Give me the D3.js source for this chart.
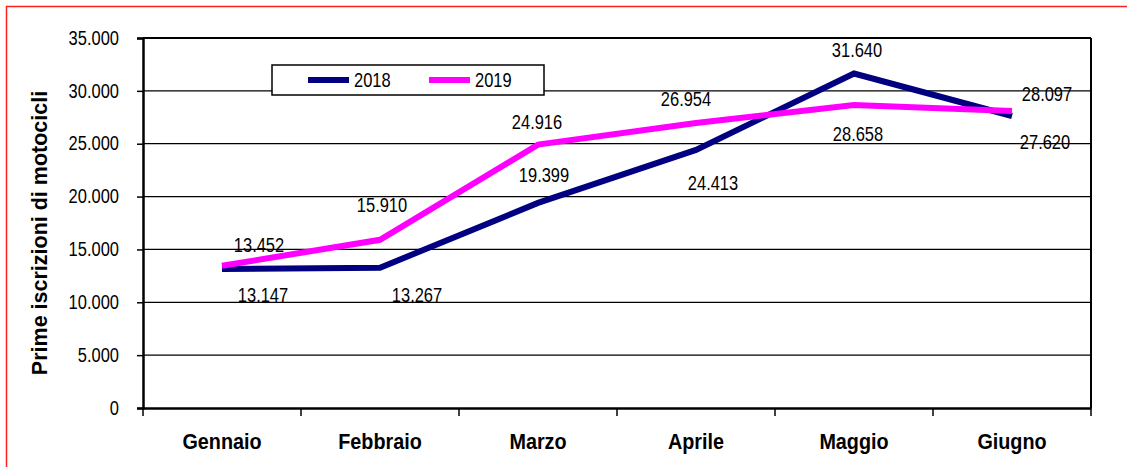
<!DOCTYPE html>
<html>
<head>
<meta charset="utf-8">
<script src="https://cdn.jsdelivr.net/npm/d3@7"></script>
<style>
  body { margin: 0; background: #fff; }
  text { font-family: "Liberation Sans", Arial, sans-serif; }
</style>
</head>
<body>
<div id="chart"></div>
<script>
// dati
var mesi = ["Gennaio", "Febbraio", "Marzo", "Aprile", "Maggio", "Giugno"];
var anni = ["2018", "2019"];
var valori2018 = [13147, 13267, 19399, 24413, 31640, 27620];
var valori2019 = [13452, 15910, 24916, 26954, 28658, 28097];
var yTicks = [0, 5000, 10000, 15000, 20000, 25000, 30000, 35000];

// spostamento delle etichette rispetto al punto (px)
var offset2018 = [[41, 33], [37, 34], [6, -21], [17, 40], [3, -17], [33, 33]];
var offset2019 = [[37, -14], [2, -28], [-1, -16], [-10, -17], [4, 36], [35, -10]];

var width = 1127, height = 467;
var margin = { top: 38, right: 36, bottom: 59, left: 143 };
var colori = ["#000080", "#ff00ff"];

var svg = d3.select("#chart").append("svg")
  .attr("width", width)
  .attr("height", height);

// il carattere del grafico originale e' stretto: comprimo in orizzontale
function stringi(sel, k) {
  sel.each(function () {
    var t = d3.select(this);
    var tx = +t.attr("x") || 0, ty = +t.attr("y") || 0;
    t.attr("x", null).attr("y", null)
      .attr("transform", "translate(" + tx + "," + ty + ") scale(" + k + ",1)");
  });
}

// cornice rossa
svg.append("rect")
  .attr("x", 6.5).attr("y", 6.5)
  .attr("width", width + 20).attr("height", height + 20)
  .attr("fill", "none")
  .attr("stroke", "#ff2020")
  .attr("stroke-width", 1.5);

var x = d3.scaleBand()
  .domain(mesi)
  .range([margin.left, width - margin.right]);

var y = d3.scaleLinear()
  .domain([0, 35000])
  .range([height - margin.bottom, margin.top]);

var fmt = function (v) { return d3.format(",")(v).replace(/,/g, "."); };

// griglia
svg.selectAll(".grid")
  .data(yTicks.slice(1))
  .enter().append("line")
  .attr("x1", margin.left).attr("x2", width - margin.right)
  .attr("y1", function (d) { return y(d); })
  .attr("y2", function (d) { return y(d); })
  .attr("stroke", "#000")
  .attr("stroke-width", function (d) { return d === 35000 ? 2 : 1.3; });

// bordo destro
svg.append("line")
  .attr("x1", width - margin.right).attr("x2", width - margin.right)
  .attr("y1", margin.top).attr("y2", y(0))
  .attr("stroke", "#000").attr("stroke-width", 2);

// asse y
var yAxis = svg.append("g")
  .attr("transform", "translate(" + margin.left + ",0)")
  .call(d3.axisLeft(y).tickValues(yTicks).tickSize(6).tickPadding(18).tickFormat(fmt));
yAxis.select(".domain").attr("stroke-width", 2.5);
yAxis.selectAll(".tick line").attr("stroke-width", 1.5);
yAxis.selectAll("text")
  .style("font-family", "'Liberation Sans', Arial, sans-serif")
  .style("font-size", "19.5px")
  .attr("fill", "#000")
  .call(stringi, 0.845);

// asse x
var xAxis = svg.append("g")
  .attr("transform", "translate(0," + y(0) + ")")
  .call(d3.axisBottom(x).tickSize(0).tickPadding(0));
xAxis.select(".domain").attr("stroke-width", 2.5);
xAxis.selectAll(".tick text").remove();

var bordi = x.domain().map(function (d) { return x(d); }).concat([width - margin.right]);
xAxis.selectAll(".sep")
  .data(bordi)
  .enter().append("line")
  .attr("x1", function (d) { return d; }).attr("x2", function (d) { return d; })
  .attr("y1", 0).attr("y2", 8)
  .attr("stroke", "#000").attr("stroke-width", 1.5);

xAxis.selectAll(".mese")
  .data(mesi)
  .enter().append("text")
  .attr("x", function (d) { return x(d) + x.bandwidth() / 2; })
  .attr("y", 41)
  .attr("text-anchor", "middle")
  .style("font-size", "22px")
  .style("font-weight", "bold")
  .attr("fill", "#000")
  .text(function (d) { return d; })
  .call(stringi, 0.9);

// titolo asse y
svg.append("text")
  .attr("transform", "translate(47," + 233 + ") rotate(-90)")
  .attr("text-anchor", "middle")
  .style("font-size", "21.5px")
  .style("font-weight", "bold")
  .text("Prime iscrizioni di motocicli");

// linee
var serie = [
  { nome: anni[0], valori: valori2018, offset: offset2018, colore: colori[0] },
  { nome: anni[1], valori: valori2019, offset: offset2019, colore: colori[1] }
];

var line = d3.line()
  .x(function (d, i) { return x(mesi[i]) + x.bandwidth() / 2; })
  .y(function (d) { return y(d); });

serie.forEach(function (s) {
  svg.append("path")
    .datum(s.valori)
    .attr("d", line)
    .attr("fill", "none")
    .attr("stroke", s.colore)
    .attr("stroke-width", 6)
    .attr("stroke-linejoin", "miter");
});

// etichette
serie.forEach(function (s) {
  svg.selectAll(null)
    .data(s.valori)
    .enter().append("text")
    .attr("x", function (d, i) { return x(mesi[i]) + x.bandwidth() / 2 + s.offset[i][0]; })
    .attr("y", function (d, i) { return y(d) + s.offset[i][1]; })
    .attr("text-anchor", "middle")
    .style("font-size", "19.5px")
    .attr("fill", "#000")
    .text(function (d) { return fmt(d); })
    .call(stringi, 0.845);
});

// legenda
var leg = svg.append("g").attr("transform", "translate(272,65)");
leg.append("rect")
  .attr("width", 272).attr("height", 30)
  .attr("fill", "#fff")
  .attr("stroke", "#000").attr("stroke-width", 1.5);
var legX = d3.scaleOrdinal().domain(anni).range([36, 157]);
leg.selectAll(".voce")
  .data(serie)
  .enter().append("line")
  .attr("x1", function (d) { return legX(d.nome); })
  .attr("x2", function (d) { return legX(d.nome) + 41; })
  .attr("y1", 15).attr("y2", 15)
  .attr("stroke", function (d) { return d.colore; })
  .attr("stroke-width", 6);
leg.selectAll(".nome")
  .data(serie)
  .enter().append("text")
  .attr("x", function (d) { return legX(d.nome) + 46; })
  .attr("y", 22)
  .style("font-size", "19.5px")
  .text(function (d) { return d.nome; })
  .call(stringi, 0.845);
</script>
</body>
</html>
